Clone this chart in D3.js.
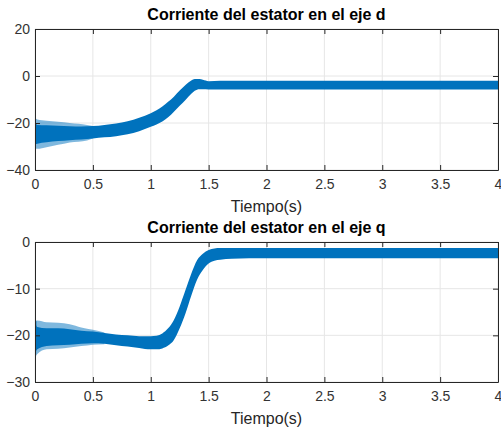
<!DOCTYPE html>
<html><head><meta charset="utf-8">
<script src="https://cdn.jsdelivr.net/npm/d3@7"></script>
<style>
body{margin:0;background:#fff}
svg{display:block}
text{font-family:"Liberation Sans",Arial,Helvetica,sans-serif}
</style>
</head><body>
<svg id="c" width="501" height="429"></svg>
<script>
// ---- data ----
const xTicks = [0, 0.5, 1, 1.5, 2, 2.5, 3, 3.5, 4];
const xTickLabels = ["0", "0.5", "1", "1.5", "2", "2.5", "3", "3.5", "4"];
const dTicks = [-40, -20, 0, 20];
const qTicks = [-30, -20, -10, 0];
const titleD = "Corriente del estator en el eje d";
const titleQ = "Corriente del estator en el eje q";
const xLabel = "Tiempo(s)";

// d-axis current: envelope of the oscillating band
const dTime  = [0.005, 0.02, 0.1, 0.2, 0.3, 0.4, 0.5, 0.6, 0.7, 0.8, 0.9, 1.0, 1.05, 1.1, 1.15, 1.2, 1.25, 1.3, 1.35, 1.38, 1.42, 1.45, 1.5, 1.6, 2, 3, 4];
const dUpper = [-20, -20.8, -21, -21.2, -21.4, -21.5, -21.3, -20.8, -20.2, -19.3, -17.8, -15.9, -14.6, -13, -11, -8.8, -6.2, -3.8, -1.9, -1.3, -1.3, -1.6, -2.2, -2.0, -2.0, -2.0, -2.0];
const dLower = [-29, -28.8, -28.2, -27.7, -27.3, -27, -26.6, -26.1, -25.6, -24.8, -23.5, -21.6, -20.6, -19.4, -17.6, -15.2, -12.7, -10.2, -7.6, -6.3, -5.6, -5.6, -5.7, -5.7, -5.7, -5.7, -5.7];
const dFringeTime  = [0.005, 0.02, 0.1, 0.2, 0.3, 0.45, 0.5];
const dFringeUpper = [-18, -18.5, -19, -19.5, -20, -20.8, -21.3];
const dFringeLower = [-31, -31, -30.3, -29.3, -28.3, -27.4, -26.6];
const dSpikeTime  = [0, 0.002, 0.004];
const dSpikeValue = [0, -31, -22];

// q-axis current
const qTime  = [0.005, 0.02, 0.1, 0.2, 0.3, 0.4, 0.5, 0.6, 0.7, 0.8, 0.9, 1.0, 1.05, 1.1, 1.15, 1.2, 1.25, 1.3, 1.35, 1.4, 1.45, 1.5, 1.55, 1.6, 1.7, 2, 3, 4];
const qUpper = [-17.5, -18.2, -18.5, -18.5, -18.7, -19, -19.2, -19.5, -19.8, -20, -20.2, -20.2, -20.1, -19.6, -18.5, -16.7, -13.8, -10.3, -6.8, -3.9, -2.5, -1.7, -1.4, -1.3, -1.3, -1.3, -1.3, -1.3];
const qLower = [-23.5, -23, -22.3, -22.1, -22, -21.8, -21.7, -21.8, -22.1, -22.4, -22.7, -23.0, -23, -22.8, -22.2, -21, -18.5, -15.3, -11.5, -8.1, -6, -4.6, -4.0, -3.8, -3.6, -3.5, -3.5, -3.5];
const qFringeTime  = [0.005, 0.02, 0.1, 0.2, 0.3, 0.4, 0.5, 0.6];
const qFringeUpper = [-16.8, -16.8, -17.2, -17.3, -17.6, -18.3, -18.8, -19.4];
const qFringeLower = [-24.5, -24, -23, -22.9, -22.6, -22.3, -22, -21.9];
const qSpikeTime  = [0.001, 0.004, 0.007];
const qSpikeValue = [-11.7, -24.5, -17];

// ---- drawing ----
const svg = d3.select("#c");
const blue = "#0072BD";
const axisColor = "#262626";
const x = d3.scaleLinear().domain([0, 4]).range([35, 498]);

function panel(cfg) {
  const y = d3.scaleLinear().domain(cfg.domain).range([cfg.bottom, cfg.top]);
  const g = svg.append("g");

  // grid
  g.append("g").selectAll("line.v").data(xTicks).join("line")
    .attr("x1", d => x(d)).attr("x2", d => x(d))
    .attr("y1", cfg.top).attr("y2", cfg.bottom)
    .attr("stroke", "#e6e6e6").attr("stroke-width", 1);
  g.append("g").selectAll("line.h").data(cfg.yTicks).join("line")
    .attr("x1", x(0)).attr("x2", x(4))
    .attr("y1", d => y(d)).attr("y2", d => y(d))
    .attr("stroke", "#e6e6e6").attr("stroke-width", 1);

  const clipId = "clip" + cfg.id;
  svg.append("clipPath").attr("id", clipId).append("rect")
    .attr("x", x(0)).attr("y", cfg.top).attr("width", x(4) - x(0)).attr("height", cfg.bottom - cfg.top);
  const data = g.append("g").attr("clip-path", `url(#${clipId})`);

  const area = d3.area().x(d => x(d.t)).y0(d => y(d.lo)).y1(d => y(d.hi)).curve(d3.curveMonotoneX);
  const fringe = cfg.fT.map((t, i) => ({t, hi: cfg.fU[i], lo: cfg.fL[i]}));
  const core = cfg.t.map((t, i) => ({t, hi: cfg.u[i], lo: cfg.l[i]}));
  data.append("path").datum(fringe).attr("d", area).attr("fill", blue).attr("fill-opacity", 0.5);
  data.append("path").datum(core).attr("d", area).attr("fill", blue);
  const spike = cfg.sT.map((t, i) => ({t, v: cfg.sV[i]}));
  data.append("path").datum(spike)
    .attr("d", d3.line().x(d => x(d.t)).y(d => y(d.v)))
    .attr("fill", "none").attr("stroke", blue).attr("stroke-width", 1.2);

  // axes
  const fmtX = d => xTickLabels[xTicks.indexOf(d)];
  const ax = [
    g.append("g").attr("transform", `translate(0,${cfg.bottom})`)
      .call(d3.axisBottom(x).tickValues(xTicks).tickFormat(fmtX).tickSize(-5).tickSizeOuter(0).tickPadding(9)),
    g.append("g").attr("transform", `translate(0,${cfg.top})`)
      .call(d3.axisTop(x).tickValues(xTicks).tickFormat("").tickSize(-5).tickSizeOuter(0)),
    g.append("g").attr("transform", `translate(${x(0)},0)`)
      .call(d3.axisLeft(y).tickValues(cfg.yTicks).tickFormat(d3.format("d")).tickSize(-5).tickSizeOuter(0).tickPadding(5)),
    g.append("g").attr("transform", `translate(${x(4)},0)`)
      .call(d3.axisRight(y).tickValues(cfg.yTicks).tickFormat("").tickSize(-5).tickSizeOuter(0))
  ];
  ax.forEach(a => {
    a.select(".domain").attr("stroke", axisColor);
    a.selectAll(".tick line").attr("stroke", axisColor);
    a.selectAll("text").attr("fill", "#333").style("font-size", "14px")
      .style("font-family", '"Liberation Sans",Arial,sans-serif');
  });

  g.append("text").attr("x", (x(0) + x(4)) / 2).attr("y", cfg.titleY)
    .attr("text-anchor", "middle").attr("font-weight", "bold").attr("font-size", 16)
    .attr("fill", "#000").text(cfg.title);
  g.append("text").attr("x", (x(0) + x(4)) / 2).attr("y", cfg.labelY)
    .attr("text-anchor", "middle").attr("font-size", 16)
    .attr("fill", "#262626").text(xLabel);
}

panel({id: "d", domain: [-40, 20], top: 29, bottom: 170, yTicks: dTicks,
  t: dTime, u: dUpper, l: dLower, fT: dFringeTime, fU: dFringeUpper, fL: dFringeLower,
  sT: dSpikeTime, sV: dSpikeValue, title: titleD, titleY: 20, labelY: 212});
panel({id: "q", domain: [-30, 0], top: 242, bottom: 382, yTicks: qTicks,
  t: qTime, u: qUpper, l: qLower, fT: qFringeTime, fU: qFringeUpper, fL: qFringeLower,
  sT: qSpikeTime, sV: qSpikeValue, title: titleQ, titleY: 233, labelY: 424});
</script>
</body></html>
